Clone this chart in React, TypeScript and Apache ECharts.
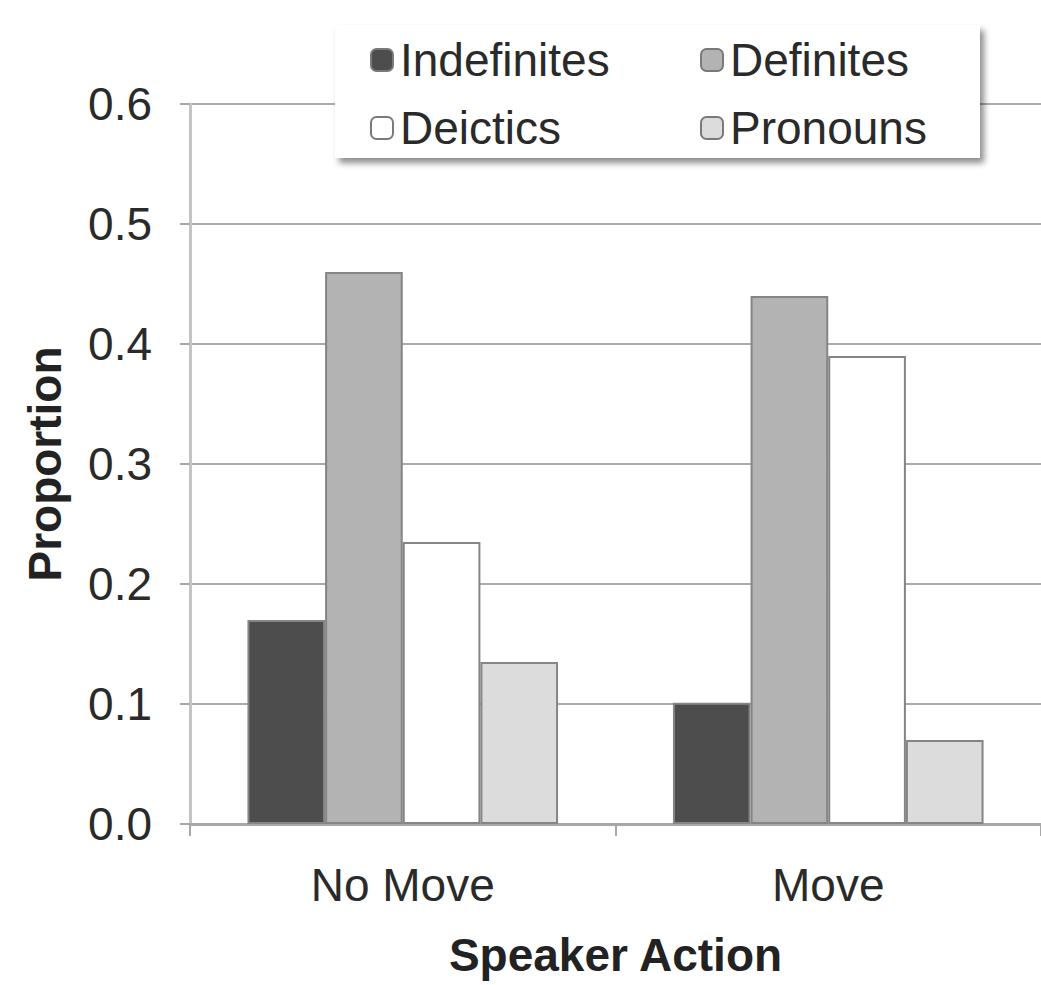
import React, { useEffect, useRef } from "react";
import * as echarts from "echarts";

const categories = ["No Move", "Move"];
const seriesNames = ["Indefinites", "Definites", "Deictics", "Pronouns"];
const indefinites = [0.17, 0.101];
const definites = [0.46, 0.44];
const deictics = [0.235, 0.39];
const pronouns = [0.135, 0.07];
const yTicks = [0, 0.1, 0.2, 0.3, 0.4, 0.5, 0.6];

const colors = ["#4d4d4d", "#b3b3b3", "#ffffff", "#dcdcdc"];
const FONT = "'Liberation Sans', Arial, Helvetica, sans-serif";

export default function App() {
  const ref = useRef<HTMLDivElement>(null);
  useEffect(() => {
    document.body.style.margin = "0";
    const chart = echarts.init(ref.current!, null, { renderer: "svg" });
    const values = [indefinites, definites, deictics, pronouns];
    const legendCommon = {
      orient: "vertical",
      top: 37,
      padding: 0,
      itemWidth: 22,
      itemHeight: 22,
      itemGap: 22,
      icon: "roundRect",
      z: 12,
      itemStyle: { borderColor: "#7a7a7a", borderWidth: 2 },
      textStyle: { fontFamily: FONT, fontSize: 46, color: "#2a2a2a", padding: [0, 0, 0, 2] },
      selectedMode: false,
    };
    chart.setOption({
      animation: false,
      backgroundColor: "#ffffff",
      textStyle: { fontFamily: FONT },
      grid: { left: 190, right: -2, top: 104, bottom: 161, containLabel: false },
      graphic: [
        {
          type: "rect",
          z: 10,
          shape: { x: 335, y: 25, width: 645, height: 133 },
          style: {
            fill: "#ffffff",
            shadowBlur: 6,
            shadowOffsetX: 4,
            shadowOffsetY: 5,
            shadowColor: "rgba(0,0,0,0.45)",
          },
        },
      ],
      legend: [
        { ...legendCommon, left: 370, data: [seriesNames[0], seriesNames[2]] },
        { ...legendCommon, left: 700, data: [seriesNames[1], seriesNames[3]] },
      ],
      xAxis: {
        type: "category",
        data: categories,
        boundaryGap: true,
        name: "Speaker Action",
        nameLocation: "middle",
        nameGap: 108,
        nameTextStyle: { fontFamily: FONT, fontSize: 46, fontWeight: "bold", color: "#222" },
        axisLine: { show: true, lineStyle: { color: "#a8a8a8", width: 3 } },
        axisTick: { show: true, length: 12, lineStyle: { color: "#a8a8a8", width: 2 } },
        axisLabel: { fontFamily: FONT, fontSize: 46, color: "#2a2a2a", margin: 38 },
        splitLine: { show: false },
      },
      yAxis: {
        type: "value",
        min: 0,
        max: 0.6,
        interval: 0.1,
        name: "Proportion",
        nameLocation: "middle",
        nameGap: 122,
        nameRotate: 90,
        nameTextStyle: { fontFamily: FONT, fontSize: 46, fontWeight: "bold", color: "#222" },
        axisLine: { show: true, lineStyle: { color: "#c4c4c4", width: 3 } },
        axisTick: { show: true, length: 10, lineStyle: { color: "#a8a8a8", width: 2 } },
        axisLabel: {
          fontFamily: FONT,
          fontSize: 46,
          color: "#2a2a2a",
          margin: 38,
          formatter: (v: number) => {
            const t = yTicks.find((x) => Math.abs(x - v) < 1e-9);
            return (t !== undefined ? t : v).toFixed(1);
          },
        },
        splitLine: { show: true, lineStyle: { color: "#ababab", width: 2 } },
      },
      series: seriesNames.map((name, i) => ({
        name,
        type: "bar",
        data: values[i],
        barGap: "0%",
        barCategoryGap: "27%",
        itemStyle: { color: colors[i], borderColor: "#858585", borderWidth: 2 },
      })),
    });
    return () => chart.dispose();
  }, []);
  return <div ref={ref} style={{ width: 1041, height: 985 }} />;
}
